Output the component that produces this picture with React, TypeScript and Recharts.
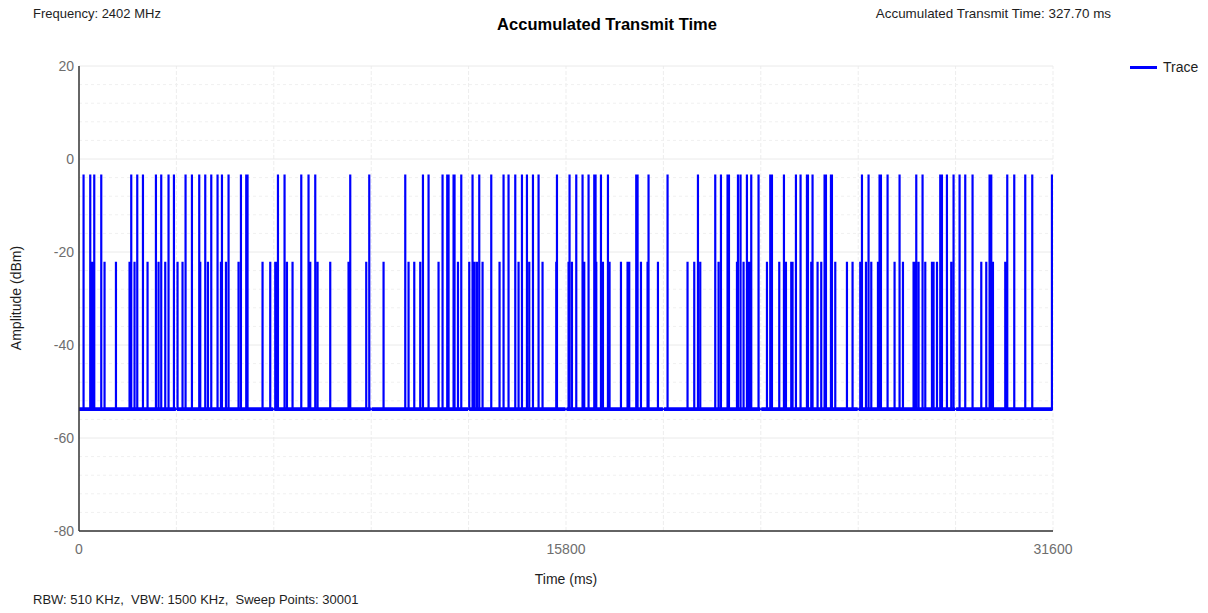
import React from 'react';
import { LineChart, Line, XAxis, YAxis, ReferenceLine, ReferenceArea, Legend } from 'recharts';

// Pulse start times (ms) of bursts that reach the upper level
const tallPulseTimes = [
  140, 357, 487, 714, 1687, 1882, 2067, 2488, 2660, 2897, 3072, 3449, 3656, 3893, 4088, 4283,
  4487, 4630, 4844, 5246, 5418, 5460, 6447, 6661, 7203, 7439, 7657, 8792, 9409, 10577, 11151,
  11333, 11787, 11939, 11982, 12144, 12176, 12394, 12760, 12978, 13367, 13766, 13928, 14146,
  14363, 14525, 14720, 14902, 15499, 15907, 16125, 16329, 16524, 16709, 16751, 16926, 17153,
  18071, 18114, 18470, 19087, 20073, 20634, 20819, 21033, 21079, 21371, 21455, 21662, 21802,
  22039, 22419, 22474, 22863, 23252, 23402, 23609, 23642, 23791, 24181, 24226, 24388, 24420,
  25394, 25608, 25965, 26010, 26225, 26614, 27156, 27360, 27934, 27989, 28151, 28366, 28561,
  28745, 28982, 29534, 29589, 30108, 30335, 30692, 30919, 31558,
];

// Pulse start times (ms) of bursts that reach the lower level
const shortPulseTimes = [
  380, 432, 821, 1191, 1632, 1794, 2216, 2573, 2790, 3189, 3351, 3926, 4176, 4597, 4760, 5168,
  5947, 6197, 6359, 6391, 6739, 6920, 7495, 7732, 8143, 8737, 9311, 9873, 10684, 10869, 11063,
  11657, 12287, 12653, 12825, 12903, 13085, 13636, 14253, 14600, 15031, 15476, 15875, 15985,
  16384, 16774, 16991, 17205, 17575, 17789, 17844, 18224, 18438, 18775, 19735, 19953, 20148,
  20742, 21339, 21553, 21695, 21747, 22312, 22711, 22883, 22928, 23100, 23142, 23749, 23954,
  24073, 24528, 24907, 25089, 25339, 25524, 25696, 25913, 26452, 26724, 27068, 27100, 27231,
  27448, 27665, 27717, 27828, 28291, 29265, 29427, 29644, 30043, 30076,
];

const TALL_PEAK = -3.5;
const SHORT_PEAK = -22.3;
const NOISE_FLOOR = -53.8;
const PULSE_MS = 16;
const SWEEP_END = 31600;

const timeTicks = [0, 15800, 31600];
const ampTicks = [-80, -60, -40, -20, 0, 20];
const timeGrid = [3160, 6320, 9480, 12640, 15800, 18960, 22120, 25280, 28440, 31600];
const ampMinorGrid = [16, 12, 8, 4, -4, -8, -12, -16, -24, -28, -32, -36, -44, -48, -52, -56,
  -64, -68, -72, -76];

type Pt = { time: number; amp: number };

const pulses = [
  ...tallPulseTimes.map((t) => ({ t, peak: TALL_PEAK })),
  ...shortPulseTimes.map((t) => ({ t, peak: SHORT_PEAK })),
].sort((a, b) => a.t - b.t);

const trace: Pt[] = [{ time: 0, amp: NOISE_FLOOR }];
pulses.forEach(({ t, peak }) => {
  trace.push({ time: t, amp: NOISE_FLOOR });
  trace.push({ time: t, amp: peak });
  trace.push({ time: t + PULSE_MS, amp: peak });
  trace.push({ time: t + PULSE_MS, amp: NOISE_FLOOR });
});
trace.push({ time: SWEEP_END, amp: NOISE_FLOOR });

const FONT = '"Liberation Sans", Arial, sans-serif';
const TEXT = '#1e1e1e';
const TICK = '#6e6e6e';
const BLUE = '#0000ff';

const LegendContent = () => (
  <div style={{ display: 'flex', alignItems: 'center', fontFamily: FONT, fontSize: 14, color: TEXT }}>
    <span style={{ display: 'inline-block', width: 27, height: 3, background: BLUE, marginRight: 6 }} />
    Trace
  </div>
);

export default function App() {
  return (
    <div
      style={{
        position: 'absolute', left: 0, top: 0, width: 1208, height: 613,
        background: '#fff', fontFamily: FONT, overflow: 'hidden',
      }}
    >
      <LineChart
        width={1208}
        height={613}
        data={trace}
        margin={{ top: 66, right: 155, bottom: 52, left: 0 }}
      >
        {timeGrid.map((x) => (
          <ReferenceLine key={'vx' + x} x={x} stroke="#ededed" strokeWidth={1} strokeDasharray="4 2" />
        ))}
        {ampTicks.map((y) => (
          <ReferenceLine key={'hy' + y} y={y} stroke="#eaeaea" strokeWidth={1} />
        ))}
        {ampMinorGrid.map((y) => (
          <ReferenceLine key={'my' + y} y={y} stroke="#f0f0f0" strokeWidth={1} strokeDasharray="3 3" />
        ))}
        <XAxis
          type="number"
          dataKey="time"
          domain={[0, SWEEP_END]}
          ticks={timeTicks}
          allowDataOverflow
          height={30}
          tickLine={false}
          tickSize={3}
          tickMargin={10}
          axisLine={{ stroke: '#333', strokeWidth: 1.5 }}
          tick={{ fill: TICK, fontSize: 14, fontFamily: FONT }}
        />
        <YAxis
          type="number"
          domain={[-80, 20]}
          ticks={ampTicks}
          allowDataOverflow
          width={79}
          tickLine={false}
          tickSize={3}
          tickMargin={2}
          axisLine={{ stroke: '#333', strokeWidth: 1.5 }}
          tick={{ fill: TICK, fontSize: 14, fontFamily: FONT }}
        />
        <ReferenceArea x1={0} x2={SWEEP_END} y1={-54.2} y2={-53.4} fill={BLUE} fillOpacity={1} stroke="none" />
        <Line
          type="linear"
          dataKey="amp"
          name="Trace"
          stroke={BLUE}
          strokeWidth={1.7}
          dot={false}
          activeDot={false}
          isAnimationActive={false}
        />
        <Legend
          layout="vertical"
          align="center"
          verticalAlign="middle"
          content={LegendContent}
          wrapperStyle={{ left: 1130, top: 59, width: 80, height: 16 }}
        />
      </LineChart>

      <div style={{ position: 'absolute', left: 33, top: 6, fontSize: 13, lineHeight: '16px', color: TEXT, whiteSpace: 'pre' }}>
        Frequency: 2402 MHz
      </div>
      <div style={{ position: 'absolute', left: 0, width: 1214, top: 15, textAlign: 'center', fontSize: 16.5, fontWeight: 'bold', lineHeight: '18px', color: '#000' }}>
        Accumulated Transmit Time
      </div>
      <div style={{ position: 'absolute', right: 97, top: 6, fontSize: 13.4, lineHeight: '16px', color: TEXT, whiteSpace: 'pre' }}>
        Accumulated Transmit Time: 327.70 ms
      </div>
      <div
        style={{
          position: 'absolute', left: 16, top: 298, fontSize: 14, lineHeight: '16px', color: TEXT,
          whiteSpace: 'pre', transform: 'translate(-50%, -50%) rotate(-90deg)',
        }}
      >
        Amplitude (dBm)
      </div>
      <div style={{ position: 'absolute', left: 0, width: 1132, top: 571, textAlign: 'center', fontSize: 14, lineHeight: '16px', color: TEXT }}>
        Time (ms)
      </div>
      <div style={{ position: 'absolute', left: 33, top: 592, fontSize: 13, lineHeight: '16px', color: TEXT, whiteSpace: 'pre' }}>
        {'RBW: 510 KHz,  VBW: 1500 KHz,  Sweep Points: 30001'}
      </div>
    </div>
  );
}
